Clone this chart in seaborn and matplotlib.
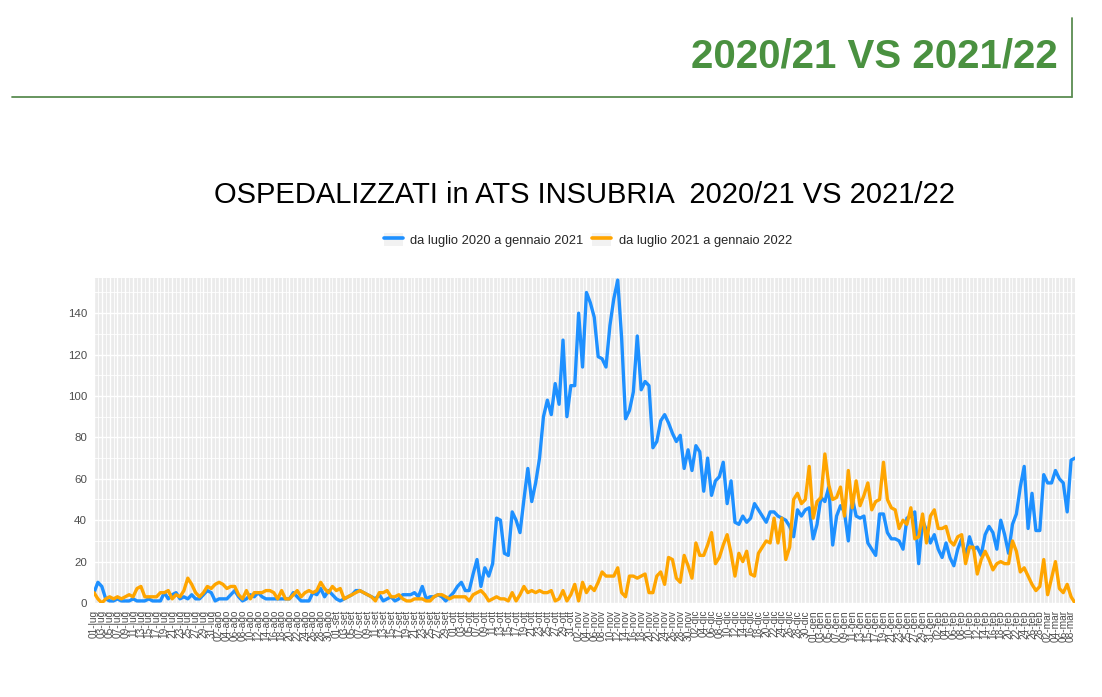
import numpy as np
import pandas as pd
import matplotlib
matplotlib.use("Agg")
import matplotlib.pyplot as plt
from matplotlib import font_manager
from matplotlib.lines import Line2D
from matplotlib.patches import Rectangle
from matplotlib.legend_handler import HandlerTuple
import seaborn as sns

# ------------------------------------------------------------------
# dati: ricoverati giornalieri, dal 1 luglio al 9 marzo
# ------------------------------------------------------------------
giorni = pd.date_range("2020-07-01", "2021-03-09", freq="D")
mesi = {7: "lug", 8: "ago", 9: "set", 10: "ott", 11: "nov", 12: "dic",
        1: "gen", 2: "feb", 3: "mar"}
etichette = [f"{g.day:02d}-{mesi[g.month]}" for g in giorni]

NOME_2020 = "da luglio 2020 a gennaio 2021"
NOME_2021 = "da luglio 2021 a gennaio 2022"

serie_2020 = [
    5, 10, 8, 2, 1, 1, 2, 1, 1, 1,
    2, 1, 1, 1, 2, 1, 1, 1, 5, 2,
    4, 5, 2, 3, 2, 4, 2, 2, 4, 6,
    5, 1, 2, 2, 2, 4, 6, 3, 1, 2,
    4, 3, 5, 3, 2, 2, 2, 2, 2, 2,
    2, 5, 3, 1, 1, 1, 5, 4, 7, 3,
    6, 4, 2, 1, 2, 3, 4, 6, 6, 5,
    4, 3, 2, 4, 1, 2, 3, 1, 2, 4,
    4, 4, 5, 3, 8, 2, 3, 3, 4, 3,
    1, 3, 5, 8, 10, 6, 6, 14, 21, 8,
    17, 13, 19, 41, 40, 24, 23, 44, 40, 34,
    50, 65, 49, 58, 70, 90, 98, 91, 106, 96,
    127, 90, 105, 105, 140, 114, 150, 145, 138, 119,
    118, 114, 134, 147, 156, 128, 89, 93, 102, 129,
    103, 107, 105, 75, 78, 88, 91, 87, 82, 78,
    81, 65, 74, 64, 76, 73, 54, 70, 52, 59,
    61, 68, 48, 59, 39, 38, 42, 39, 41, 48,
    45, 42, 39, 44, 44, 42, 41, 40, 37, 32,
    45, 42, 45, 46, 31, 38, 51, 49, 56, 28,
    42, 47, 44, 30, 51, 42, 41, 42, 29, 26,
    23, 43, 43, 34, 31, 31, 30, 26, 41, 42,
    44, 19, 40, 35, 29, 33, 26, 22, 29, 22,
    18, 26, 31, 22, 32, 26, 27, 23, 33, 37,
    34, 26, 40, 33, 24, 38, 43, 56, 66, 36,
    53, 35, 35, 62, 58, 58, 64, 60, 58, 44,
    69, 70,
]

serie_2021 = [
    5, 2, 0, 2, 3, 2, 3, 2, 3, 4,
    3, 7, 8, 3, 3, 3, 3, 5, 5, 6,
    2, 4, 3, 6, 12, 9, 5, 3, 5, 8,
    7, 9, 10, 9, 7, 8, 8, 4, 2, 6,
    2, 5, 5, 5, 6, 6, 5, 2, 6, 2,
    2, 4, 6, 3, 5, 6, 5, 6, 10, 7,
    5, 8, 6, 7, 2, 3, 4, 5, 6, 5,
    4, 3, 1, 5, 5, 6, 3, 3, 4, 2,
    1, 1, 2, 2, 2, 1, 1, 3, 4, 4,
    3, 2, 3, 3, 3, 3, 1, 4, 5, 6,
    4, 1, 2, 3, 2, 2, 1, 5, 1, 4,
    8, 5, 6, 5, 6, 5, 5, 6, 1, 2,
    6, 1, 4, 9, 1, 10, 5, 8, 6, 10,
    15, 13, 13, 13, 17, 5, 3, 13, 13, 12,
    13, 14, 5, 5, 13, 15, 9, 22, 21, 12,
    10, 23, 18, 12, 29, 23, 23, 28, 34, 19,
    22, 28, 33, 24, 13, 24, 20, 25, 14, 13,
    24, 27, 30, 29, 41, 29, 41, 21, 27, 50,
    53, 48, 50, 66, 41, 49, 51, 72, 57, 50,
    51, 56, 42, 64, 46, 59, 47, 52, 58, 45,
    49, 50, 68, 50, 46, 45, 36, 40, 38, 46,
    31, 32, 43, 29, 42, 45, 36, 36, 37, 30,
    28, 32, 33, 19, 27, 27, 14, 21, 25, 21,
    16, 19, 20, 19, 19, 30, 25, 15, 17, 13,
    9, 6, 8, 21, 4, 12, 20, 7, 5, 9,
    3, 0,
]

tick_y = [0, 20, 40, 60, 80, 100, 120, 140]

colori = {NOME_2020: "#1E90FF", NOME_2021: "#FFA500"}
VERDE = "#4A9140"

n = len(giorni)
assert len(serie_2020) == n and len(serie_2021) == n

df = pd.DataFrame({
    "giorno": np.tile(np.arange(n), 2),
    "ricoverati": serie_2020 + serie_2021,
    "periodo": [NOME_2020] * n + [NOME_2021] * n,
})

# ------------------------------------------------------------------
# stile (tipo ggplot)
# ------------------------------------------------------------------
sns.set_style("darkgrid", {"axes.facecolor": "#EBEBEB", "grid.color": "white"})
nomi_font = {f.name for f in font_manager.fontManager.ttflist}
if "Liberation Sans Narrow" in nomi_font:
    STRETTO, k = "Liberation Sans Narrow", 1.0
else:
    STRETTO, k = "Liberation Sans", 0.84
plt.rcParams["font.family"] = ["Liberation Sans", "DejaVu Sans"]

W, H = 1102, 697
fig = plt.figure(figsize=(W / 100, H / 100), dpi=100)
ax = fig.add_axes([94 / W, 1 - 603 / H, (1075 - 94) / W, (603 - 278) / H])

sns.lineplot(data=df, x="giorno", y="ricoverati", hue="periodo",
             palette=colori, linewidth=2.4, legend=False, ax=ax)

ax.set_xlim(0, n - 1)
ax.set_ylim(0, 157)
ax.set_xticks(np.arange(0, n, 2))
ax.set_xticklabels(etichette[::2], rotation=90, fontsize=7.3, color="#4D4D4D")
ax.set_xticks(np.arange(1, n, 2), minor=True)
ax.set_yticks(tick_y)
ax.set_yticklabels([str(v) for v in tick_y], fontsize=9.5 * k + 0.3,
                   color="#4D4D4D", family=STRETTO)
ax.set_yticks(np.arange(10, 160, 20), minor=True)
ax.grid(which="major", color="white", linewidth=1.0)
ax.grid(which="minor", color="white", linewidth=0.6)
ax.tick_params(which="major", length=3.5, width=0.8, color="#333333", pad=1.5)
ax.tick_params(which="minor", length=0)
for s in ax.spines.values():
    s.set_visible(False)
ax.set_xlabel("")
ax.set_ylabel("")

# titolo del grafico
fig.text(585 / W, 1 - 195 / H, "OSPEDALIZZATI in ATS INSUBRIA  2020/21 VS 2021/22",
         ha="center", va="center", fontsize=25 * k, family=STRETTO, color="black")

# legenda in alto, orizzontale, con chiavi grigie
maniglie = []
for nome in [NOME_2020, NOME_2021]:
    fondo = Rectangle((0, 0), 1, 1, facecolor="#F2F2F2", edgecolor="none")
    linea = Line2D([], [], color=colori[nome], linewidth=2.6)
    maniglie.append((fondo, linea))
fig.legend(maniglie, [NOME_2020, NOME_2021], loc="center",
           bbox_to_anchor=(588 / W, 1 - 240 / H), ncol=2, frameon=False,
           handler_map={tuple: HandlerTuple(ndivide=1)},
           prop={"family": STRETTO, "size": 11 * k},
           handlelength=1.45, handleheight=1.2, handletextpad=0.6,
           columnspacing=0.7)

# intestazione della slide
fig.text(1058 / W, 1 - 57 / H, "2020/21 VS 2021/22", ha="right", va="center",
         fontsize=29, fontweight="bold", color=VERDE)
fig.add_artist(Line2D([12 / W, 1072 / W], [1 - 97 / H, 1 - 97 / H],
                      color="#5B8C52", linewidth=1.3))
fig.add_artist(Line2D([1072 / W, 1072 / W], [1 - 18 / H, 1 - 97 / H],
                      color="#5B8C52", linewidth=1.3))

fig.savefig("out.png", dpi=100)
